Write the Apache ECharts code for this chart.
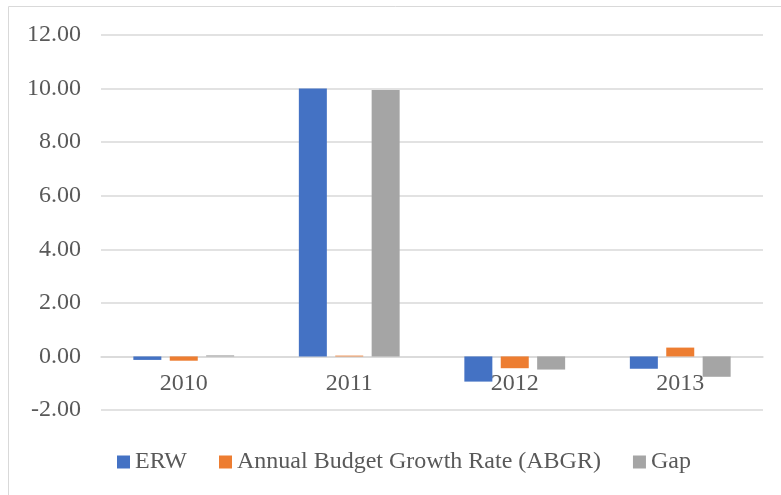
<!DOCTYPE html>
<html>
<head>
<meta charset="utf-8">
<script src="https://cdn.jsdelivr.net/npm/echarts@6/dist/echarts.min.js"></script>
<style>
  html, body { margin: 0; padding: 0; background: #fff; }
  #chart { width: 781px; height: 495px; }
</style>
</head>
<body>
<div id="chart"></div>
<script>
const years = ['2010', '2011', '2012', '2013'];
const erw = [-0.13, 10.00, -0.94, -0.46];
const abgr = [-0.16, 0.03, -0.44, 0.33];
const gap = [0.04, 9.95, -0.49, -0.76];

const colors = {
  erw: '#4472C4',
  abgr: '#ED7D31',
  gap: '#A5A5A5'
};

const font = 'Liberation Serif, Times New Roman, serif';
const textColor = '#595959';

const chart = echarts.init(document.getElementById('chart'));

const barSeries = (name, data, color) => ({
  name: name,
  type: 'bar',
  data: data,
  barWidth: 28,
  barGap: '30%',
  itemStyle: { color: color }
});

// grid: top 35, bottom 410 -> 14 units over 375px; zero line sits 2 units above bottom
const zeroOffset = -375 * 2 / 14;

chart.setOption({
  animation: false,
  textStyle: { fontFamily: font },
  graphic: [{
    type: 'rect',
    shape: { x: 8.5, y: 6.5, width: 790, height: 500 },
    style: { fill: 'none', stroke: '#d9d9d9', lineWidth: 1 },
    silent: true
  }],
  grid: { left: 101, right: 18, top: 35, bottom: 85 },
  legend: {
    data: ['ERW', 'Annual Budget Growth Rate (ABGR)', 'Gap'],
    left: 112,
    top: 445,
    itemWidth: 13,
    itemHeight: 13,
    itemGap: 32,
    icon: 'rect',
    textStyle: { fontFamily: font, fontSize: 24, color: textColor, padding: [0, 0, 0, 0] }
  },
  xAxis: {
    type: 'category',
    data: years,
    offset: zeroOffset,
    axisLine: { show: true, onZero: false, lineStyle: { color: '#d9d9d9', width: 1.5 } },
    axisTick: { show: false },
    axisLabel: { fontFamily: font, fontSize: 24, color: textColor, margin: 15 }
  },
  yAxis: {
    type: 'value',
    min: -2,
    max: 12,
    interval: 2,
    axisLine: { show: false },
    axisTick: { show: false },
    splitLine: { lineStyle: { color: '#d9d9d9', width: 1.5 } },
    axisLabel: {
      fontFamily: font,
      fontSize: 24,
      color: textColor,
      margin: 20,
      formatter: (v) => v.toFixed(2)
    }
  },
  series: [
    barSeries('ERW', erw, colors.erw),
    barSeries('Annual Budget Growth Rate (ABGR)', abgr, colors.abgr),
    barSeries('Gap', gap, colors.gap)
  ]
});
</script>
</body>
</html>
